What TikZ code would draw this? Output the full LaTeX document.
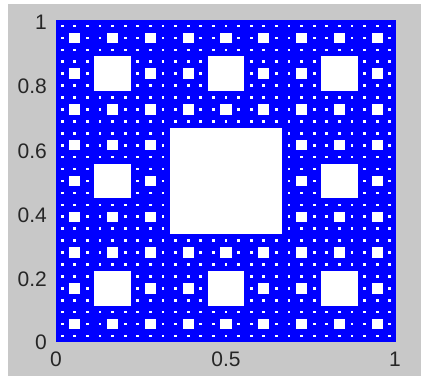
\documentclass[tikz,border=0pt]{standalone}
\usepackage{fontspec}
\setmainfont{Liberation Sans}
\definecolor{figgray}{RGB}{200,200,200}
\definecolor{plotblue}{RGB}{0,0,255}
\begin{document}
\begin{tikzpicture}[x=1pt,y=-1pt,
  ticklab/.style={font=\fontsize{21}{21}\selectfont, inner sep=0pt, text=black!85}]
\useasboundingbox (0,0) rectangle (421,376);
\fill[white] (0,0) rectangle (421,376);
\fill[figgray] (8,4) rectangle (421,376);
% carpet
\fill[plotblue] (56,20) rectangle (396,342);
\foreach \n in {3,9,27,81} {
  \pgfmathtruncatemacro\m{\n-2}
  \pgfmathsetmacro\cw{340/\n}
  \pgfmathsetmacro\ch{322/\n}
  \foreach \i in {1,4,...,\m} {
    \foreach \j in {1,4,...,\m} {
      \fill[white] ({56+\cw*\i+0.7},{20+\ch*\j+0.7}) rectangle +({\cw-1.4},{\ch-1.4});
    }
  }
}
% y tick labels
\node[ticklab, anchor=east] (y1)  at (47,22)    {1};
\node[ticklab, anchor=east] (y08) at (47,86.4)  {0.8};
\node[ticklab, anchor=east] (y06) at (47,150.8) {0.6};
\node[ticklab, anchor=east] (y04) at (47,215.2) {0.4};
\node[ticklab, anchor=east] (y02) at (47,279.6) {0.2};
\node[ticklab, anchor=east] (y0)  at (47,342)   {0};
% x tick labels
\node[ticklab, anchor=north] (x0)  at (56,352)  {0};
\node[ticklab, anchor=north] (x05) at (226,352) {0.5};
\node[ticklab, anchor=north] (x1)  at (395,352) {1};
\end{tikzpicture}
\end{document}
